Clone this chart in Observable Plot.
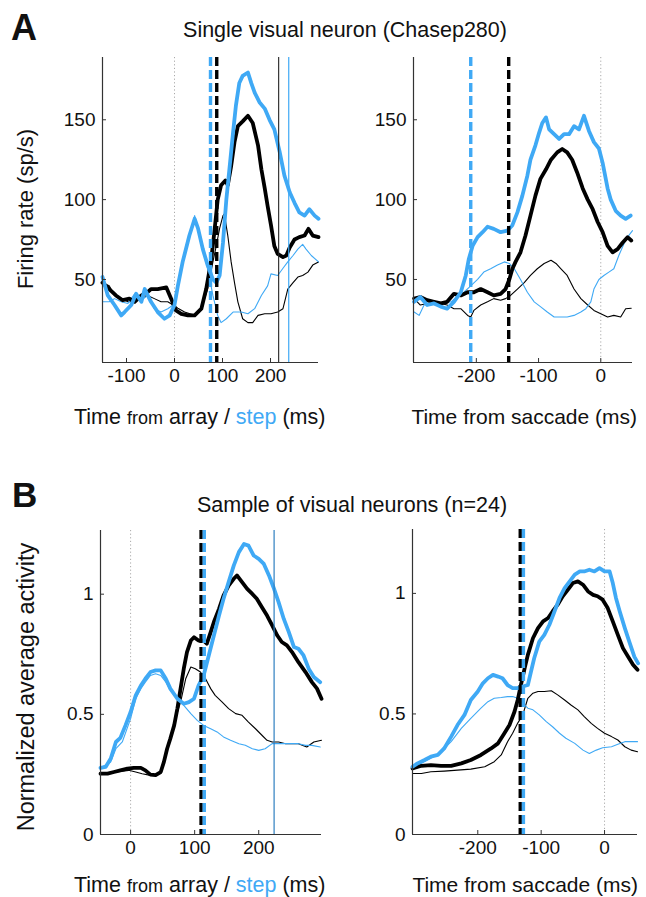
<!DOCTYPE html>
<html>
<head>
<meta charset="utf-8">
<script src="https://cdn.jsdelivr.net/npm/d3@7"></script>
<script src="https://cdn.jsdelivr.net/npm/@observablehq/plot@0.6"></script>
<style>
  html, body { margin: 0; padding: 0; background: #fff; }
  #root { position: relative; width: 646px; height: 897px; overflow: hidden; font-family: "Liberation Sans", Arial, Helvetica, sans-serif; }
  .panel { position: absolute; }
  #labels { position: absolute; left: 0; top: 0; pointer-events: none; }
</style>
</head>
<body>
<div id="root"></div>
<script>
// ---------------- DATA ----------------
// Panel A (single neuron), left: time from array / step (ms) -> firing rate (sp/s)
const aLeftThickBlue = [[-150,51.5],[-139,40],[-125,34],[-111,27.5],[-104,29.6],[-90,34],[-80,41],[-69,36],[-62,44],[-49,36],[-35,29.6],[-21,25.4],[-10,27.5],[0,34],[7,46],[17,61],[31,77.5],[42,88],[49,82],[59,69],[69,59],[80,50],[87,48],[94,52.5],[101,73],[108,100],[115,121],[122,142],[128,159],[135,173],[142,177.5],[153,179.6],[160,173],[167,167],[177,161],[188,157],[198,150],[208,144],[219,130],[229,115],[240,104.6],[250,98],[260,92],[271,90],[281,94],[292,90],[300,88]];
const aLeftThickBlack = [[-150,48],[-136,44],[-122,40],[-108,37],[-94,38],[-83,36],[-69,40],[-56,42],[-49,44],[-35,44],[-17,45],[-7,38],[3,30.6],[14,28.5],[28,27.5],[42,27.5],[56,31.7],[66,44],[76,61],[83,79.6],[90,100],[97,109],[106,112],[111,109],[118,121],[125,136],[132,146],[142,149],[153,152.5],[163,148],[174,134],[181,119],[188,107],[194,96],[201,84],[208,71],[215,66],[226,64],[233,65],[240,70],[250,75],[260,76.5],[271,77.5],[279,81.7],[288,77.5],[300,76.5]];
const aLeftThinBlack = [[-150,48],[-136,46],[-125,40],[-111,38],[-97,36],[-83,36],[-69,38],[-56,40],[-42,38],[-28,36],[-14,36],[-3,34],[7,32],[21,29.6],[42,27.5],[56,31.7],[69,44],[80,61],[87,71],[94,82],[101,90],[104,91],[111,77.5],[118,61],[125,48],[132,36],[142,25.4],[153,23],[163,23],[174,27.5],[188,28.5],[201,28.5],[215,29.6],[226,31.7],[236,44],[247,48],[257,51.5],[267,52.5],[278,54.6],[288,59],[300,61]];
const aLeftThinBlue = [[-150,36],[-136,36],[-125,38],[-111,36],[-97,35],[-83,41],[-69,37],[-56,40],[-42,31.7],[-28,29.6],[-14,31.7],[-3,34],[7,44],[17,61],[31,77.5],[42,90],[49,82],[59,69],[69,57],[80,40],[90,27.5],[97,23],[108,25.4],[122,29.6],[139,29.6],[153,28.5],[167,31.7],[181,40],[194,46],[201,53.5],[215,52.5],[226,57],[236,61],[247,65],[257,69],[267,72],[274,69],[285,65],[300,61]];
const aLeftDashBlue = [75];
const aLeftDashBlack = [88];
const aLeftSolidBlack = [217];
const aLeftSolidBlue = [238];

// Panel A, right: time from saccade (ms)
const aRightThickBlue = [[-300,36],[-290,39],[-279,34],[-268,35],[-257,33],[-247,31.7],[-236,36],[-225,42],[-217,52.5],[-212,63],[-206,71],[-198,76.5],[-190,79.6],[-182,83],[-172,81.7],[-161,79.6],[-150,80.6],[-142,84],[-134,92],[-126,102.5],[-118,115],[-113,125],[-105,134],[-99,142],[-94,148],[-88,151.5],[-83,144],[-75,141],[-67,138],[-59,141],[-51,141],[-43,146],[-35,144],[-27,152.5],[-19,143],[-11,136],[-3,132],[3,123],[11,107],[16,100],[24,93],[32,90],[40,88],[48,90]];
const aRightThickBlack = [[-300,38],[-290,39],[-279,37],[-268,36],[-257,35],[-247,36],[-236,41],[-225,40],[-214,42],[-204,42],[-193,44],[-182,42],[-172,40],[-161,41],[-153,44],[-147,50],[-142,56.7],[-137,61],[-129,67],[-121,77.5],[-113,90],[-105,102.5],[-97,113],[-88,119],[-80,125],[-70,129.6],[-62,131.7],[-54,129.6],[-46,125],[-38,117],[-29,107],[-21,100],[-13,94],[-5,86],[3,79.6],[11,71],[19,67],[27,69],[35,73],[43,76.5],[49,74.4]];
const aRightThinBlack = [[-300,38],[-290,34],[-279,35],[-268,36],[-257,35],[-247,34],[-236,31.7],[-225,31.7],[-214,27.5],[-209,26.5],[-204,30.6],[-193,34],[-182,36],[-172,38],[-161,37],[-153,38],[-145,40],[-134,44],[-123,48],[-113,52.5],[-102,56.7],[-91,60],[-80,62],[-72,60],[-64,56.7],[-54,52.5],[-43,44],[-32,38],[-21,34],[-11,30.6],[0,28.5],[11,26.5],[21,27.5],[32,26.5],[40,31.7],[49,32]];
const aRightThinBlue = [[-300,29.6],[-292,27.5],[-284,34],[-273,35],[-263,36],[-252,35],[-241,36],[-231,39],[-220,42],[-209,46],[-198,50],[-188,54.6],[-177,56.7],[-166,59],[-155,61],[-147,60],[-139,56.7],[-129,50],[-118,42],[-107,36],[-97,33],[-86,29.6],[-75,26.5],[-64,26.5],[-54,26.5],[-43,27.5],[-32,29.6],[-24,31.7],[-16,36],[-11,44],[-3,50],[5,52.5],[13,54.6],[21,56.7],[29,65],[38,73],[43,76.5],[51,80.6]];
const aRightDashBlue = [-209];
const aRightDashBlack = [-148];

// Panel B (n=24), left: time from array / step (ms) -> normalized activity
const bLeftThickBlue = [[-47,0.277],[-39,0.281],[-31,0.316],[-23,0.385],[-16,0.402],[-8,0.454],[0,0.51],[8,0.579],[16,0.62],[23,0.648],[31,0.676],[39,0.683],[47,0.683],[55,0.648],[62,0.607],[73,0.565],[83,0.544],[91,0.551],[99,0.565],[106,0.62],[114,0.662],[122,0.745],[130,0.828],[138,0.911],[145,0.98],[153,1.05],[161,1.119],[169,1.175],[177,1.209],[184,1.202],[192,1.161],[200,1.147],[208,1.126],[216,1.078],[223,1.029],[231,0.967],[239,0.898],[247,0.842],[255,0.78],[262,0.773],[270,0.745],[278,0.69],[286,0.655],[296,0.634]];
const bLeftThinBlue = [[-47,0.277],[-31,0.302],[-23,0.357],[-13,0.385],[0,0.482],[8,0.565],[16,0.607],[23,0.634],[31,0.662],[39,0.669],[47,0.662],[55,0.634],[62,0.6],[73,0.565],[83,0.537],[94,0.503],[104,0.475],[114,0.454],[125,0.44],[135,0.427],[145,0.406],[156,0.392],[169,0.378],[179,0.371],[190,0.357],[200,0.35],[210,0.357],[221,0.378],[231,0.378],[242,0.378],[252,0.378],[262,0.378],[273,0.371],[283,0.371],[296,0.364]];
const bLeftThickBlack = [[-47,0.253],[-36,0.253],[-26,0.26],[-16,0.267],[-5,0.274],[5,0.277],[16,0.277],[23,0.267],[31,0.249],[39,0.247],[47,0.26],[52,0.302],[57,0.357],[62,0.399],[68,0.454],[73,0.524],[78,0.607],[83,0.69],[88,0.759],[94,0.807],[99,0.821],[106,0.807],[114,0.807],[119,0.794],[125,0.842],[130,0.884],[138,0.939],[145,0.994],[153,1.036],[161,1.064],[166,1.078],[174,1.05],[182,1.022],[190,1.001],[197,0.981],[205,0.946],[213,0.911],[221,0.87],[229,0.828],[236,0.801],[244,0.787],[252,0.759],[262,0.717],[273,0.676],[283,0.634],[291,0.607],[298,0.565]];
const bLeftThinBlack = [[-47,0.253],[-23,0.26],[-3,0.267],[8,0.26],[18,0.253],[29,0.247],[39,0.247],[47,0.26],[52,0.302],[57,0.357],[62,0.399],[70,0.482],[78,0.551],[86,0.648],[94,0.697],[101,0.69],[109,0.676],[117,0.648],[125,0.607],[132,0.579],[143,0.551],[153,0.524],[164,0.503],[174,0.496],[184,0.468],[195,0.44],[205,0.413],[213,0.392],[221,0.385],[231,0.385],[242,0.378],[252,0.378],[262,0.378],[275,0.364],[286,0.385],[298,0.392]];
const bLeftDashBlack = [110];
const bLeftDashBlue = [115];
const bLeftSolidBlue = [224];

// Panel B, right: time from saccade (ms)
const bRightThickBlue = [[-303,0.281],[-295,0.295],[-284,0.309],[-274,0.323],[-263,0.33],[-253,0.357],[-242,0.406],[-232,0.454],[-221,0.496],[-211,0.558],[-200,0.593],[-192,0.627],[-184,0.648],[-176,0.662],[-168,0.655],[-161,0.648],[-153,0.62],[-145,0.607],[-137,0.607],[-129,0.614],[-121,0.62],[-116,0.676],[-111,0.731],[-103,0.8],[-95,0.828],[-87,0.87],[-79,0.925],[-71,0.981],[-63,1.022],[-55,1.05],[-47,1.078],[-39,1.091],[-32,1.091],[-24,1.098],[-16,1.091],[-8,1.105],[0,1.091],[8,1.091],[13,1.043],[18,0.981],[24,0.925],[32,0.856],[39,0.8],[47,0.738],[53,0.71]];
const bRightThickBlack = [[-303,0.274],[-289,0.285],[-274,0.288],[-258,0.285],[-242,0.285],[-226,0.295],[-211,0.309],[-195,0.33],[-179,0.357],[-168,0.378],[-158,0.42],[-150,0.454],[-142,0.51],[-137,0.558],[-132,0.62],[-126,0.69],[-121,0.745],[-113,0.814],[-105,0.856],[-97,0.884],[-89,0.898],[-82,0.925],[-74,0.953],[-66,0.988],[-58,1.015],[-50,1.043],[-42,1.05],[-34,1.036],[-26,1.008],[-18,0.994],[-11,0.988],[-3,0.974],[5,0.939],[13,0.884],[21,0.828],[29,0.773],[37,0.738],[45,0.704],[52,0.683]];
const bRightThinBlack = [[-303,0.253],[-289,0.253],[-274,0.26],[-253,0.263],[-232,0.267],[-211,0.271],[-189,0.281],[-174,0.302],[-163,0.33],[-153,0.385],[-145,0.42],[-137,0.462],[-129,0.496],[-121,0.565],[-113,0.586],[-105,0.593],[-95,0.593],[-84,0.596],[-74,0.579],[-63,0.558],[-53,0.537],[-42,0.517],[-32,0.489],[-21,0.461],[-11,0.44],[0,0.42],[11,0.406],[21,0.392],[32,0.364],[42,0.35],[52,0.343]];
const bRightThinBlue = [[-303,0.281],[-289,0.295],[-274,0.316],[-258,0.343],[-242,0.385],[-226,0.44],[-211,0.482],[-195,0.524],[-184,0.551],[-174,0.565],[-163,0.568],[-153,0.572],[-145,0.572],[-137,0.565],[-129,0.544],[-121,0.524],[-113,0.517],[-103,0.496],[-92,0.468],[-82,0.447],[-71,0.42],[-61,0.399],[-47,0.378],[-34,0.35],[-24,0.336],[-13,0.35],[-3,0.36],[11,0.364],[21,0.374],[32,0.385],[42,0.385],[52,0.385]];
const bRightDashBlack = [-133];
const bRightDashBlue = [-128];

// Axis ticks
const aLeftXTicks = [-100, 0, 100, 200];
const aRightXTicks = [-200, -100, 0];
const aYTicks = [50, 100, 150];
const bLeftXTicks = [0, 100, 200];
const bRightXTicks = [-200, -100, 0];
const bYTicks = [0, 0.5, 1];
const zeroLine = [0];

// ---------------- DRAWING ----------------
const BLUE = "#3FA9F5";
const ML = 60, MR = 8, MT = 4, MB = 36;
const root = document.getElementById("root");

function panel(cfg) {
  const w = cfg.right - cfg.left, h = cfg.bottom - cfg.top;
  const xy = {x: d => d[0], y: d => d[1]};
  const marks = [
    Plot.ruleX(zeroLine, {stroke: "#aaa", strokeWidth: 1, strokeDasharray: "1.2,2.4"}),
    Plot.line(cfg.thinBlack, {...xy, stroke: "#000", strokeWidth: 1.1}),
    Plot.line(cfg.thinBlue, {...xy, stroke: BLUE, strokeWidth: 1.1}),
    Plot.line(cfg.thickBlack, {...xy, stroke: "#000", strokeWidth: 3.8, strokeLinejoin: "round"}),
    Plot.line(cfg.thickBlue, {...xy, stroke: BLUE, strokeWidth: 3.8, strokeLinejoin: "round"}),
  ];
  if (cfg.solidBlack) marks.push(Plot.ruleX(cfg.solidBlack, {stroke: "#222", strokeWidth: 1.1}));
  if (cfg.solidBlue) marks.push(Plot.ruleX(cfg.solidBlue, {stroke: cfg.solidBlueColor || BLUE, strokeWidth: 1.2}));
  for (const [vals, col] of cfg.dashes) {
    marks.push(Plot.ruleX(vals, {stroke: col, strokeWidth: 3.4, strokeDasharray: "9,4"}));
  }
  marks.push(
    Plot.ruleX([cfg.xDomain[0]], {stroke: "#333", strokeWidth: 1.2}),
    Plot.ruleY([cfg.yDomain[0]], {stroke: "#333", strokeWidth: 1.2}),
    Plot.ruleX(cfg.xTicks, {stroke: "#333", strokeWidth: 1, insetTop: h - 4}),
    Plot.ruleY(cfg.yTicks, {stroke: "#333", strokeWidth: 1, insetRight: w - 4}),
    Plot.axisX({ticks: cfg.xTicks, tickSize: 0, tickPadding: 6, tickFormat: d => String(d), fontSize: 19, fill: "#111"}),
    Plot.axisY({ticks: cfg.yTicks, tickSize: 0, tickPadding: 7, tickFormat: d => String(d), fontSize: 19, fill: "#111"})
  );
  const svg = Plot.plot({
    width: w + ML + MR, height: h + MT + MB,
    marginLeft: ML, marginRight: MR, marginTop: MT, marginBottom: MB,
    x: {domain: cfg.xDomain}, y: {domain: cfg.yDomain},
    style: {fontFamily: '"Liberation Sans", Arial, Helvetica, sans-serif', background: "transparent", overflow: "visible"},
    marks
  });
  svg.classList.add("panel");
  svg.style.left = (cfg.left - ML) + "px";
  svg.style.top = (cfg.top - MT) + "px";
  root.appendChild(svg);
}

panel({left: 102, top: 57, right: 318, bottom: 362, xDomain: [-150, 300], yDomain: [-2, 189],
  xTicks: aLeftXTicks, yTicks: aYTicks,
  thickBlack: aLeftThickBlack, thickBlue: aLeftThickBlue, thinBlack: aLeftThinBlack, thinBlue: aLeftThinBlue,
  solidBlack: aLeftSolidBlack, solidBlue: aLeftSolidBlue,
  dashes: [[aLeftDashBlue, BLUE], [aLeftDashBlack, "#000"]]});

panel({left: 413, top: 57, right: 632, bottom: 362, xDomain: [-301, 51], yDomain: [-2, 189],
  xTicks: aRightXTicks, yTicks: aYTicks,
  thickBlack: aRightThickBlack, thickBlue: aRightThickBlue, thinBlack: aRightThinBlack, thinBlue: aRightThinBlue,
  dashes: [[aRightDashBlue, BLUE], [aRightDashBlack, "#000"]]});

panel({left: 100, top: 530, right: 321, bottom: 834, xDomain: [-47, 298], yDomain: [0, 1.265],
  xTicks: bLeftXTicks, yTicks: bYTicks,
  thickBlack: bLeftThickBlack, thickBlue: bLeftThickBlue, thinBlack: bLeftThinBlack, thinBlue: bLeftThinBlue,
  solidBlue: bLeftSolidBlue, solidBlueColor: "#2E7FC0",
  dashes: [[bLeftDashBlack, "#000"], [bLeftDashBlue, BLUE]]});

panel({left: 412, top: 529, right: 637, bottom: 834, xDomain: [-303, 52], yDomain: [0, 1.265],
  xTicks: bRightXTicks, yTicks: bYTicks,
  thickBlack: bRightThickBlack, thickBlue: bRightThickBlue, thinBlack: bRightThinBlack, thinBlue: bRightThinBlue,
  dashes: [[bRightDashBlack, "#000"], [bRightDashBlue, BLUE]]});

// ---------------- TEXT ----------------
const NS = "http://www.w3.org/2000/svg";
const lab = document.createElementNS(NS, "svg");
lab.setAttribute("id", "labels");
lab.setAttribute("width", 646);
lab.setAttribute("height", 897);
lab.innerHTML = `
<g font-family='"Liberation Sans", Arial, Helvetica, sans-serif' fill="#111">
  <text x="11" y="40" font-size="36" font-weight="bold">A</text>
  <text x="345" y="37" font-size="21.5" text-anchor="middle">Single visual neuron (Chasep280)</text>
  <text x="12" y="507" font-size="35" font-weight="bold">B</text>
  <text x="352" y="512" font-size="21.5" text-anchor="middle">Sample of visual neurons (n=24)</text>
  <text transform="translate(33,209) rotate(-90)" font-size="22" text-anchor="middle">Firing rate (sp/s)</text>
  <text transform="translate(34,687) rotate(-90)" font-size="23.5" text-anchor="middle">Normalized average activity</text>
  <text x="74" y="424" font-size="21.5">Time <tspan font-size="18">from</tspan> array / <tspan fill="${BLUE}">step</tspan> (ms)</text>
  <text x="637" y="424" font-size="21" text-anchor="end">Time from saccade (ms)</text>
  <text x="74" y="892" font-size="21.5">Time <tspan font-size="18">from</tspan> array / <tspan fill="${BLUE}">step</tspan> (ms)</text>
  <text x="638" y="892" font-size="21" text-anchor="end">Time from saccade (ms)</text>
</g>`;
root.appendChild(lab);
</script>
</body>
</html>
